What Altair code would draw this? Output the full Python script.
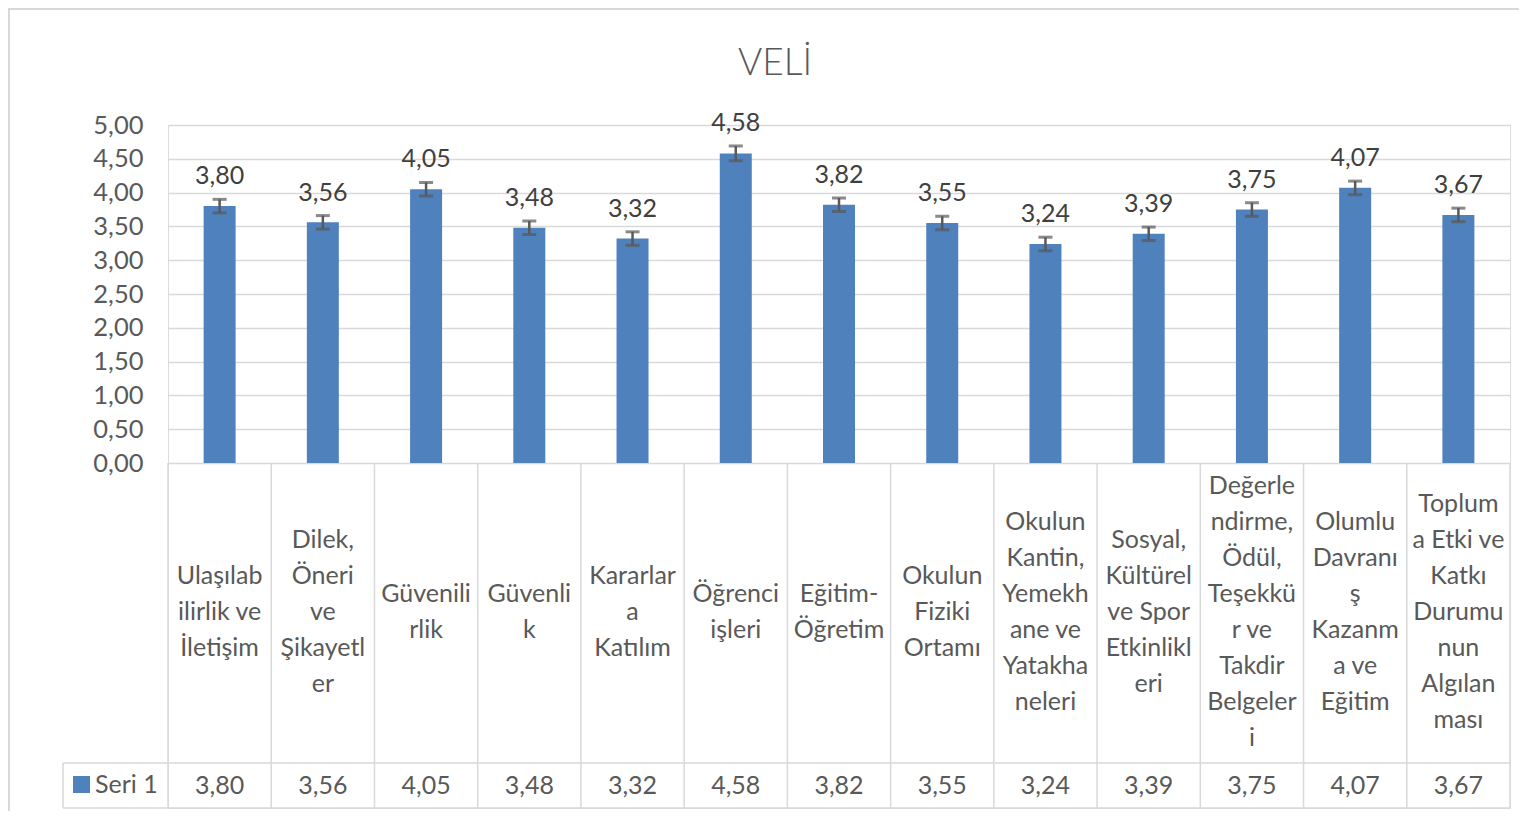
import altair as alt
import pandas as pd

title_text = "VELİ"
series_name = "Seri 1"

categories = [
    "Ulaşılabilirlik ve İletişim",
    "Dilek, Öneri ve Şikayetler",
    "Güvenilirlik",
    "Güvenlik",
    "Kararlara Katılım",
    "Öğrenci işleri",
    "Eğitim-Öğretim",
    "Okulun Fiziki Ortamı",
    "Okulun Kantin, Yemekhane ve Yatakhaneleri",
    "Sosyal, Kültürel ve Spor Etkinlikleri",
    "Değerlendirme, Ödül, Teşekkür ve Takdir Belgeleri",
    "Olumlu Davranış Kazanma ve Eğitim",
    "Topluma Etki ve Katkı Durumunun Algılanması",
]

# wrapped category labels as they appear in the data table
wrapped_labels = [
    ["Ulaşılab", "ilirlik ve", "İletişim"],
    ["Dilek,", "Öneri", "ve", "Şikayetl", "er"],
    ["Güvenili", "rlik"],
    ["Güvenli", "k"],
    ["Kararlar", "a", "Katılım"],
    ["Öğrenci", "işleri"],
    ["Eğitim-", "Öğretim"],
    ["Okulun", "Fiziki", "Ortamı"],
    ["Okulun", "Kantin,", "Yemekh", "ane ve", "Yatakha", "neleri"],
    ["Sosyal,", "Kültürel", "ve Spor", "Etkinlikl", "eri"],
    ["Değerle", "ndirme,", "Ödül,", "Teşekkü", "r ve", "Takdir", "Belgeler", "i"],
    ["Olumlu", "Davranı", "ş", "Kazanm", "a ve", "Eğitim"],
    ["Toplum", "a Etki ve", "Katkı", "Durumu", "nun", "Algılan", "ması"],
]

values = [3.80, 3.56, 4.05, 3.48, 3.32, 4.58, 3.82, 3.55, 3.24, 3.39, 3.75, 4.07, 3.67]
errors = [0.10, 0.10, 0.10, 0.10, 0.10, 0.11, 0.10, 0.10, 0.10, 0.10, 0.10, 0.10, 0.10]
y_ticks = [0, 0.5, 1, 1.5, 2, 2.5, 3, 3.5, 4, 4.5, 5]

df = pd.DataFrame({"cat": categories, "value": values, "err": errors})

# one row per wrapped label line
line_rows = []
for c, lines in zip(categories, wrapped_labels):
    for i, ln in enumerate(lines):
        line_rows.append({"cat": c, "line": ln, "i": i, "n": len(lines)})
lines_df = pd.DataFrame(line_rows)

FONT = "Lato"
BAR = "#4f81bd"
GRID = "#d9d9d9"
TXT = "#595959"

W = 1342
PLOT_H = 338
TABLE_LABEL_BOTTOM = 638
TABLE_BOTTOM = 683
LEGEND_LEFT = -105
LABEL_CENTER = 487
LINE_H = 36

base = alt.Chart(df).transform_calculate(
    lo="datum.value - datum.err",
    hi="datum.value + datum.err",
    txt="replace(format(datum.value, '.2f'), '.', ',')",
)

x_enc = alt.X("cat:N", sort=categories, axis=None,
              scale=alt.Scale(paddingInner=0, paddingOuter=0))
y_scale = alt.Scale(domain=[0, 5], range=[PLOT_H, 0], nice=False)
y_axis = alt.Axis(values=y_ticks, labelExpr="replace(format(datum.value, '.2f'), '.', ',')",
                  grid=True, gridColor=GRID, gridWidth=1.5, domain=False, ticks=False,
                  labelFontSize=25.5, labelColor=TXT, labelFont=FONT, labelPadding=25, title=None)

bars = base.mark_bar(size=32, color=BAR).encode(
    x=x_enc, y=alt.Y("value:Q", scale=y_scale, axis=y_axis)
)
err_rule = base.mark_rule(color="#595959", strokeWidth=2.5).encode(
    x=x_enc, y=alt.Y("lo:Q"), y2="hi:Q"
)
cap_lo = base.mark_tick(color="#595959", size=14, thickness=3).encode(x=x_enc, y="lo:Q")
cap_hi = base.mark_tick(color="#595959", size=14, thickness=3).encode(x=x_enc, y="hi:Q")
data_labels = base.mark_text(baseline="alphabetic", dy=-15, fontSize=25, font=FONT,
                             color="#404040").encode(x=x_enc, y="hi:Q", text="txt:N")

# data table
v_rules = base.mark_rule(color=GRID, strokeWidth=1.5).encode(
    x=alt.X("cat:N", sort=categories, axis=None, bandPosition=0),
    y=alt.value(PLOT_H), y2=alt.value(TABLE_BOTTOM)
)
one = alt.Chart(pd.DataFrame({"k": [0]}))
right_rule = one.mark_rule(color=GRID, strokeWidth=1.5).encode(
    x=alt.value(W), y=alt.value(PLOT_H), y2=alt.value(TABLE_BOTTOM))
legend_left_rule = one.mark_rule(color=GRID, strokeWidth=1.5).encode(
    x=alt.value(LEGEND_LEFT), y=alt.value(TABLE_LABEL_BOTTOM), y2=alt.value(TABLE_BOTTOM))
h_rule_mid = one.mark_rule(color=GRID, strokeWidth=1.5).encode(
    x=alt.value(LEGEND_LEFT), x2=alt.value(W), y=alt.value(TABLE_LABEL_BOTTOM))
h_rule_bot = one.mark_rule(color=GRID, strokeWidth=1.5).encode(
    x=alt.value(LEGEND_LEFT), x2=alt.value(W), y=alt.value(TABLE_BOTTOM))

# category label lines, vertically centred in the label row (pixel -> y data units)
cat_text = alt.Chart(lines_df).transform_calculate(
    ypix=f"{LABEL_CENTER} + (datum.i - (datum.n - 1) / 2) * {LINE_H}",
).transform_calculate(
    yv=f"({PLOT_H} - datum.ypix) * 5 / {PLOT_H}",
).mark_text(baseline="middle", fontSize=25, font=FONT, color=TXT).encode(
    x=x_enc, y=alt.Y("yv:Q"), text="line:N")

val_text = base.mark_text(baseline="middle", fontSize=25, font=FONT, color=TXT).encode(
    x=x_enc, y=alt.value((TABLE_LABEL_BOTTOM + TABLE_BOTTOM) / 2), text="txt:N")

legend_sq = one.mark_rect(color=BAR).encode(
    x=alt.value(-95), x2=alt.value(-78), y=alt.value(651), y2=alt.value(668))
legend_txt = one.mark_text(align="left", baseline="middle", fontSize=25, font=FONT,
                           color=TXT).encode(
    x=alt.value(-73), y=alt.value(660), text=alt.value(series_name))

title = one.mark_text(align="center", baseline="alphabetic", fontSize=37, font=FONT,
                      fontWeight=300, color=TXT).encode(
    x=alt.value(607), y=alt.value(-50), text=alt.value(title_text))

border_left = one.mark_rule(color=GRID, strokeWidth=2).encode(
    x=alt.value(-159), y=alt.value(-117), y2=alt.value(690))
border_top = one.mark_rule(color=GRID, strokeWidth=2).encode(
    x=alt.value(-159), x2=alt.value(W + 10), y=alt.value(-116))

chart = alt.layer(
    border_left, border_top,
    bars, err_rule, cap_lo, cap_hi, data_labels,
    v_rules, right_rule, legend_left_rule, h_rule_mid, h_rule_bot,
    cat_text, val_text, legend_sq, legend_txt, title,
).properties(
    width=W, height=TABLE_BOTTOM,
    autosize=alt.AutoSizeParams(type="none"),
    padding={"left": 160, "top": 117, "right": 9, "bottom": 3},
).configure_view(stroke=None).configure(background="white")

chart.save("out.html", embed_options={"renderer": "svg", "actions": False})
